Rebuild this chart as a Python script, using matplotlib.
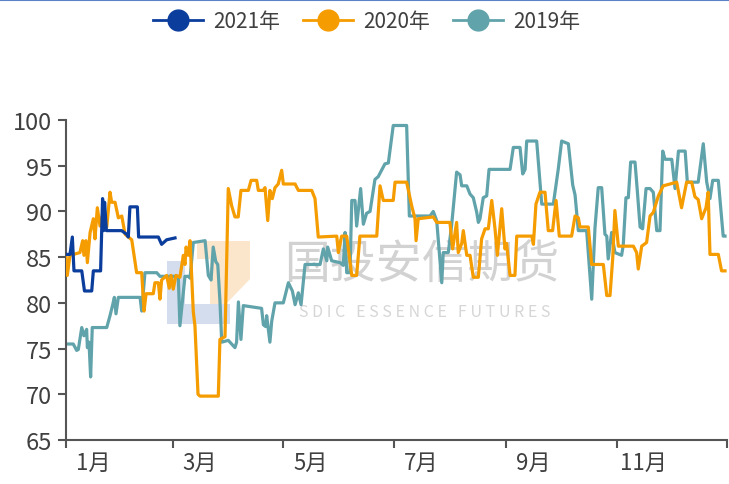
import matplotlib.pyplot as plt
from matplotlib.patches import Polygon
from matplotlib.lines import Line2D
from matplotlib.transforms import Affine2D

plt.rcParams['font.family'] = ['Noto Sans CJK SC', 'DejaVu Sans']

# day of year -> value
d2021 = [0, 2.2, 3.5, 4.4, 8.7, 10.2, 14.2, 15.1, 19.1, 20.2, 20.8, 21.3, 22.3,
         30.7, 33.5, 34.4, 35.3, 39.4, 40.1, 51.0, 52.8, 55.6, 60.2]
v2021 = [85.3, 85.3, 87.2, 83.5, 83.5, 81.3, 81.3, 83.5, 83.5, 91.4, 87.9, 91.0, 87.9,
         87.9, 87.5, 87.2, 90.5, 90.5, 87.2, 87.2, 86.4, 86.9, 87.1]

d2020 = [0, 0.7, 2.2, 7.7, 9.2, 9.9, 11.0, 11.8, 13.3, 15.1,
         16.0, 17.3, 18.8, 20.6, 22.5, 24.3, 25.2, 27.1, 28.9, 30.8,
         32.6, 36.3, 39.0, 41.8, 43.1, 44.2, 48.2, 49.1, 51.0, 51.9,
         52.8, 55.6, 57.0, 58.0, 59.2, 60.7, 62.9, 64.8, 65.7, 66.3,
         67.5, 68.5, 70.3, 71.2, 72.9, 74.0, 84.1, 85.0, 87.8, 89.6,
         91.5, 93.3, 95.1, 96.6, 100.7, 102.2, 105.3, 106.2, 108.9, 109.9,
         111.4, 112.6, 113.9, 115.4, 117.2, 119.1, 120.0, 126.5, 128.3, 135.7,
         137.5, 139.3, 149.5, 150.4, 152.2, 155.0, 157.8, 160.5, 162.3, 171.6,
         173.4, 175.2, 180.7, 181.7, 188.1, 190.9, 192.7, 193.3, 194.5, 202.8,
         204.7, 212.0, 213.5, 215.7, 216.6, 218.5, 219.4, 221.3, 223.1, 224.9,
         227.7, 229.5, 231.4, 233.2, 235.1, 236.9, 238.2, 240.6, 242.4, 243.3,
         245.2, 247.9, 248.9, 257.2, 258.1, 259.5, 261.7, 264.5, 266.3, 268.7,
         270.6, 272.4, 279.2, 281.1, 282.9, 283.8, 288.4, 290.3, 296.7, 298.6,
         300.4, 301.9, 303.1, 305.0, 313.3, 315.1, 316.0, 317.9, 320.6, 322.5,
         324.3, 327.1, 329.8, 337.2, 339.9, 342.7, 345.5, 347.3, 349.1, 351.0,
         353.4, 354.6, 355.6, 360.2, 362.0, 363.9]
v2020 = [85.2, 83.0, 85.2, 85.5, 86.8, 85.2, 86.8, 84.4, 87.7, 89.2,
         87.0, 90.4, 88.4, 90.0, 88.3, 92.1, 91.0, 91.0, 89.3, 89.5,
         87.5, 86.9, 83.3, 83.3, 79.1, 81.0, 81.0, 82.2, 82.2, 80.4,
         82.5, 83.0, 81.6, 83.0, 81.5, 83.0, 82.8, 85.2, 84.2, 86.1,
         85.2, 86.8, 79.0, 77.5, 70.0, 69.8, 69.8, 76.0, 76.3, 92.5,
         90.6, 89.4, 89.4, 92.3, 92.3, 93.4, 93.4, 92.3, 92.3, 92.6,
         89.0, 92.3, 91.4, 92.6, 93.0, 94.5, 93.0, 93.0, 92.3, 92.3,
         91.4, 87.2, 87.3, 85.5, 87.3, 87.3, 83.0, 83.0, 87.3, 87.3,
         92.8, 91.2, 91.2, 93.2, 93.2, 90.6, 89.2, 86.8, 89.2, 89.4,
         88.8, 88.8, 85.9, 88.8, 85.5, 86.5, 87.9, 85.2, 85.2, 82.8,
         82.8, 87.0, 88.1, 88.1, 91.2, 88.1, 85.2, 90.3, 85.9, 86.5,
         83.0, 83.0, 87.3, 87.3, 86.4, 90.8, 92.1, 92.1, 87.9, 87.9,
         91.2, 87.3, 87.3, 89.5, 89.3, 88.3, 88.3, 84.2, 84.2, 80.8,
         80.8, 84.9, 90.1, 86.2, 86.2, 85.5, 83.7, 86.2, 86.6, 89.5,
         89.9, 91.7, 92.8, 93.2, 90.4, 93.2, 93.2, 91.6, 91.3, 89.2,
         90.4, 92.1, 85.3, 85.3, 83.5, 83.5]

d2019 = [0, 4.0, 5.9, 6.8, 8.7, 9.9, 11.4, 11.8, 12.7, 13.6,
         14.5, 22.5, 24.3, 25.8, 26.7, 27.6, 28.9, 40.9, 41.8, 43.6,
         50.1, 51.9, 62.0, 62.9, 65.7, 67.5, 68.5, 70.3, 76.8, 78.6,
         80.1, 81.3, 82.7, 83.8, 85.0, 86.0, 89.6, 93.3, 94.2, 95.2,
         96.6, 97.9, 108.0, 109.0, 110.3, 110.8, 112.6, 113.6, 115.4, 120.0,
         122.8, 125.0, 126.5, 128.3, 129.8, 132.0, 140.3, 142.1, 144.0, 144.5,
         146.7, 151.3, 153.1, 154.1, 155.0, 156.8, 157.8, 159.6, 160.5, 162.7,
         164.2, 166.0, 167.9, 170.6, 172.4, 176.1, 178.0, 180.7, 188.1, 189.6,
         201.0, 202.8, 204.7, 207.5, 208.3, 211.1, 213.0, 215.7, 217.6, 218.5,
         221.3, 223.1, 224.9, 226.8, 227.7, 228.6, 230.4, 232.3, 233.6, 245.2,
         247.0, 250.7, 252.2, 253.5, 254.4, 259.9, 262.7, 269.1, 271.8, 273.7,
         277.4, 279.8, 281.1, 282.9, 287.5, 290.3, 292.1, 293.9, 295.8, 297.6,
         298.6, 299.4, 301.3, 303.1, 306.8, 307.7, 309.2, 310.5, 311.8, 314.2,
         315.5, 317.0, 318.4, 320.3, 322.5, 324.3, 326.2, 328.0, 329.5, 330.8,
         334.5, 336.3, 338.2, 341.9, 343.1, 349.1, 351.9, 353.8, 355.6, 357.1,
         360.2, 362.9, 363.9]
v2019 = [75.5, 75.5, 74.8, 74.9, 77.3, 76.4, 77.1, 75.1, 75.7, 71.9,
         77.3, 77.3, 78.6, 79.8, 80.6, 78.8, 80.6, 80.6, 79.1, 83.3,
         83.3, 82.9, 82.9, 77.5, 82.9, 82.9, 82.7, 86.6, 86.8, 83.0,
         82.5, 86.1, 84.5, 84.2, 80.2, 75.7, 75.9, 75.1, 75.7, 80.1,
         76.0, 79.7, 79.4, 77.6, 77.4, 78.6, 75.7, 78.0, 80.0, 80.0,
         82.2, 81.3, 79.8, 81.1, 79.8, 84.2, 84.2, 85.9, 84.6, 86.1,
         84.6, 84.4, 84.1, 87.7, 83.3, 83.3, 91.2, 91.2, 88.4, 92.5,
         88.6, 89.8, 90.0, 93.5, 93.8, 95.2, 95.3, 99.4, 99.4, 89.5,
         89.5, 90.0, 89.0, 82.2, 85.5, 85.5, 88.6, 94.3, 94.0, 92.8,
         92.8, 91.9, 91.5, 89.9, 88.8, 89.2, 91.5, 91.7, 94.6, 94.6,
         97.0, 97.0, 94.1, 94.6, 97.7, 97.7, 90.8, 90.8, 94.6, 97.7,
         97.4, 92.9, 91.8, 87.9, 87.9, 80.4, 88.2, 92.6, 92.6, 87.5,
         87.3, 84.8, 87.7, 85.5, 85.2, 86.3, 91.5, 91.5, 95.4, 95.4,
         92.2, 88.3, 88.1, 92.5, 92.5, 92.1, 87.9, 87.9, 96.6, 95.7,
         95.7, 92.5, 96.6, 96.6, 93.2, 93.2, 97.4, 93.2, 91.4, 93.4,
         93.4, 87.3, 87.3]

series_names = ['2021年', '2020年', '2019年']
series_colors = ['#0b3d9c', '#f59c00', '#61a3ab']

month_starts = [0, 59, 120, 181, 243, 304, 365]
label_pos = [15, 74, 135, 196, 258, 319]
month_labels = ['1月', '3月', '5月', '7月', '9月', '11月']

fig = plt.figure(figsize=(7.29, 4.85), dpi=100)
ax = fig.add_axes([66 / 729, 1 - 441 / 485, 661 / 729, 320 / 485])

# pixel (from top-left) -> figure coords, for the watermark
px = Affine2D().scale(1 / 729, -1 / 485).translate(0, 1) + fig.transFigure

ax.add_patch(Polygon([(197, 242), (250, 242), (250, 280), (226, 305), (210, 305),
                      (210, 260), (197, 260)], closed=True, transform=px,
                     facecolor='#fbe6cc', edgecolor='none', zorder=0.5))
ax.add_patch(Polygon([(167, 262), (185, 262), (185, 305), (230, 305), (230, 325),
                      (167, 325)], closed=True, transform=px,
                     facecolor='#d3ddee', edgecolor='none', zorder=0.6))
ax.text(422, 265, '国投安信期货', transform=px, fontsize=33, color='#d2d2d2',
        ha='center', va='center', zorder=0.7)
ax.text(425, 313, 'S D I C   E S S E N C E   F U T U R E S', transform=px,
        fontsize=11.5, color='#d6d6d6', ha='center', va='center', zorder=0.7)

ax.plot(d2019, v2019, color=series_colors[2], lw=2.3, zorder=2)
ax.plot(d2020, v2020, color=series_colors[1], lw=2.3, zorder=3)
ax.plot(d2021, v2021, color=series_colors[0], lw=2.3, zorder=4)

ax.set_xlim(0, 365)
ax.set_ylim(65, 100)
ax.set_yticks(range(65, 101, 5))
ax.set_xticks(month_starts)
ax.set_xticklabels([])
ax.set_xticks(label_pos, minor=True)
ax.set_xticklabels(month_labels, minor=True)

for s in ['top', 'right']:
    ax.spines[s].set_visible(False)
for s in ['left', 'bottom']:
    ax.spines[s].set_color('#555555')
    ax.spines[s].set_linewidth(1.5)

ax.tick_params(axis='y', length=6, width=1.5, color='#555555',
               labelsize=17, labelcolor='#404040', pad=4)
ax.tick_params(axis='x', which='major', length=6, width=1.5, color='#555555')
ax.tick_params(axis='x', which='minor', length=0, labelsize=16,
               labelcolor='#404040', pad=8)

handles = [Line2D([], [], color=c, lw=2, marker='o', markersize=15)
           for c in series_colors]
fig.legend(handles, series_names, loc='center',
           bbox_to_anchor=(0.503, 0.955), ncol=3, frameon=False, fontsize=15,
           handlelength=2.4, handletextpad=0.5, columnspacing=1.1,
           labelcolor='#404040')

fig.add_artist(Line2D([0, 1], [0.998, 0.998], transform=fig.transFigure,
                      color='#5b82c6', lw=1.5))

fig.savefig('out.png', dpi=100, facecolor='white')
